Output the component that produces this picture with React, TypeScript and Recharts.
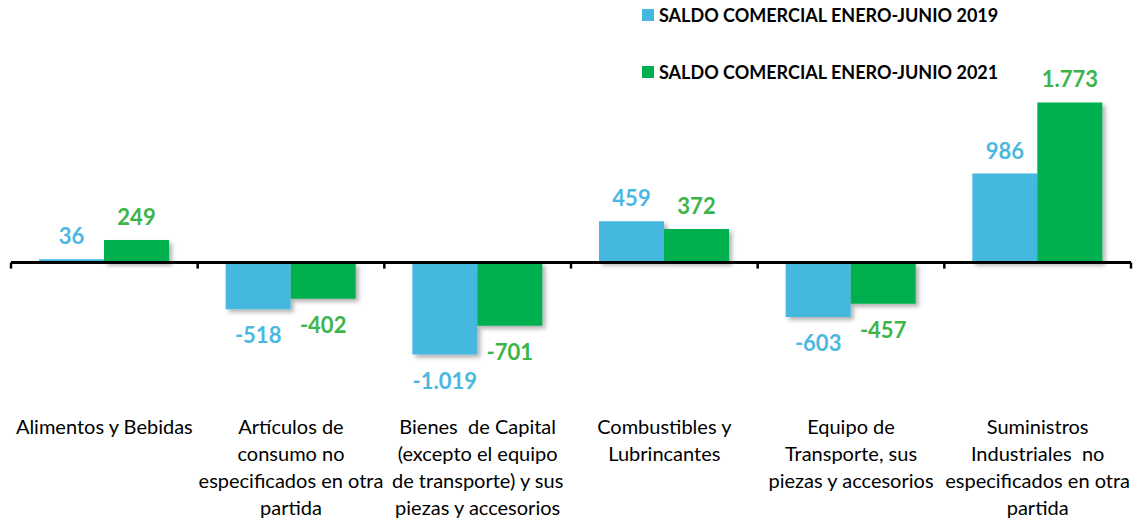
import { BarChart, Bar, XAxis, YAxis, LabelList, ReferenceLine, Rectangle } from 'recharts'

const categories = [
  'Alimentos y Bebidas',
  'Artículos de\nconsumo no\nespecificados en otra\npartida',
  'Bienes  de Capital\n(excepto el equipo\nde transporte) y sus\npiezas y accesorios',
  'Combustibles y\nLubrincantes',
  'Equipo de\nTransporte, sus\npiezas y accesorios',
  'Suministros\nIndustriales  no\nespecificados en otra\npartida',
]
const saldo2019 = [36, -518, -1019, 459, -603, 986]
const saldo2021 = [249, -402, -701, 372, -457, 1773]
const seriesNames = ['SALDO COMERCIAL ENERO-JUNIO 2019', 'SALDO COMERCIAL ENERO-JUNIO 2021']

const data = categories.map((name, i) => ({ name, y2019: saldo2019[i], y2021: saldo2021[i] }))

const BLUE = '#45b8e0'
const GREEN = '#00b050'
const FONT = 'Lato, "Open Sans", sans-serif'

// miles con punto, como en el original
const fmt = (v: number) => {
  const s = String(Math.abs(v)).replace(/\B(?=(\d{3})+(?!\d))/g, '.')
  return (v < 0 ? '-' : '') + s
}

const makeLabel = (color: string) => (props: any) => {
  const { x, y, width, height, value } = props
  const top = Math.min(y, y + height)
  const bottom = Math.max(y, y + height)
  const ty = value >= 0 ? top - 15 : bottom + 34
  return (
    <text x={x + width / 2} y={ty} textAnchor="middle" fill={color}
      style={{ fontFamily: FONT, fontSize: 22, fontWeight: 700 }}>
      {fmt(value)}
    </text>
  )
}

const CategoryTick = (props: any) => {
  const { x, y, payload } = props
  const lines = String(payload.value).split('\n')
  return (
    <text x={x} y={y} textAnchor="middle" fill="#000"
      style={{ fontFamily: FONT, fontSize: 20, whiteSpace: 'pre' }}>
      {lines.map((l, i) => (
        <tspan key={i} x={x} dy={i === 0 ? 36 : 27}>{l}</tspan>
      ))}
    </text>
  )
}

const AxisWithTicks = (props: any) => {
  const { x1, x2, y1 } = props
  const n = categories.length
  const step = (x2 - x1) / n
  return (
    <g>
      <line x1={x1} x2={x2} y1={y1} y2={y1} stroke="#000" strokeWidth={3} />
      {Array.from({ length: n + 1 }, (_, i) => (
        <line key={i} x1={x1 + i * step} x2={x1 + i * step} y1={y1} y2={y1 + 6} stroke="#000" strokeWidth={2.5} />
      ))}
    </g>
  )
}

const LegendBox = () => (
  <div style={{ position: 'absolute', top: 3, left: 642, fontFamily: FONT, fontSize: 18, fontWeight: 700, color: '#000' }}>
    {seriesNames.map((s, i) => (
      <div key={s} style={{ display: 'flex', alignItems: 'center', height: 24, marginBottom: i === 0 ? 33 : 0, whiteSpace: 'nowrap' }}>
        <span style={{ display: 'inline-block', width: 12, height: 12, background: i === 0 ? BLUE : GREEN, marginRight: 5 }} />
        {s}
      </div>
    ))}
  </div>
)

const shadowBar = (props: any) => <Rectangle {...props} filter="url(#barShadow)" />

export default function App() {
  return (
    <div style={{ position: 'absolute', left: 0, top: 0, width: 1138, height: 521, background: '#fff' }}>
      <BarChart width={1138} height={521} data={data}
        margin={{ top: 82, right: 7, bottom: 13, left: 11 }}
        barCategoryGap="15%" barGap={0}>
        <defs>
          <filter id="barShadow" x="-10%" y="-10%" width="130%" height="130%">
            <feDropShadow dx={3} dy={3} stdDeviation={2} floodColor="#000" floodOpacity={0.3} />
          </filter>
        </defs>
        <XAxis dataKey="name" axisLine={false} tickLine={false} tickSize={0} tickMargin={0}
          height={110} interval={0} tick={<CategoryTick />} />
        <YAxis hide domain={[-1500, 2000]} />
        <Bar dataKey="y2019" name={seriesNames[0]} fill={BLUE} shape={shadowBar} isAnimationActive={false}>
          <LabelList dataKey="y2019" content={makeLabel('#4ab8e0')} />
        </Bar>
        <Bar dataKey="y2021" name={seriesNames[1]} fill={GREEN} shape={shadowBar} isAnimationActive={false}>
          <LabelList dataKey="y2021" content={makeLabel('#3cb44a')} />
        </Bar>
        <ReferenceLine y={0} shape={<AxisWithTicks />} />
      </BarChart>
      <LegendBox />
    </div>
  )
}
